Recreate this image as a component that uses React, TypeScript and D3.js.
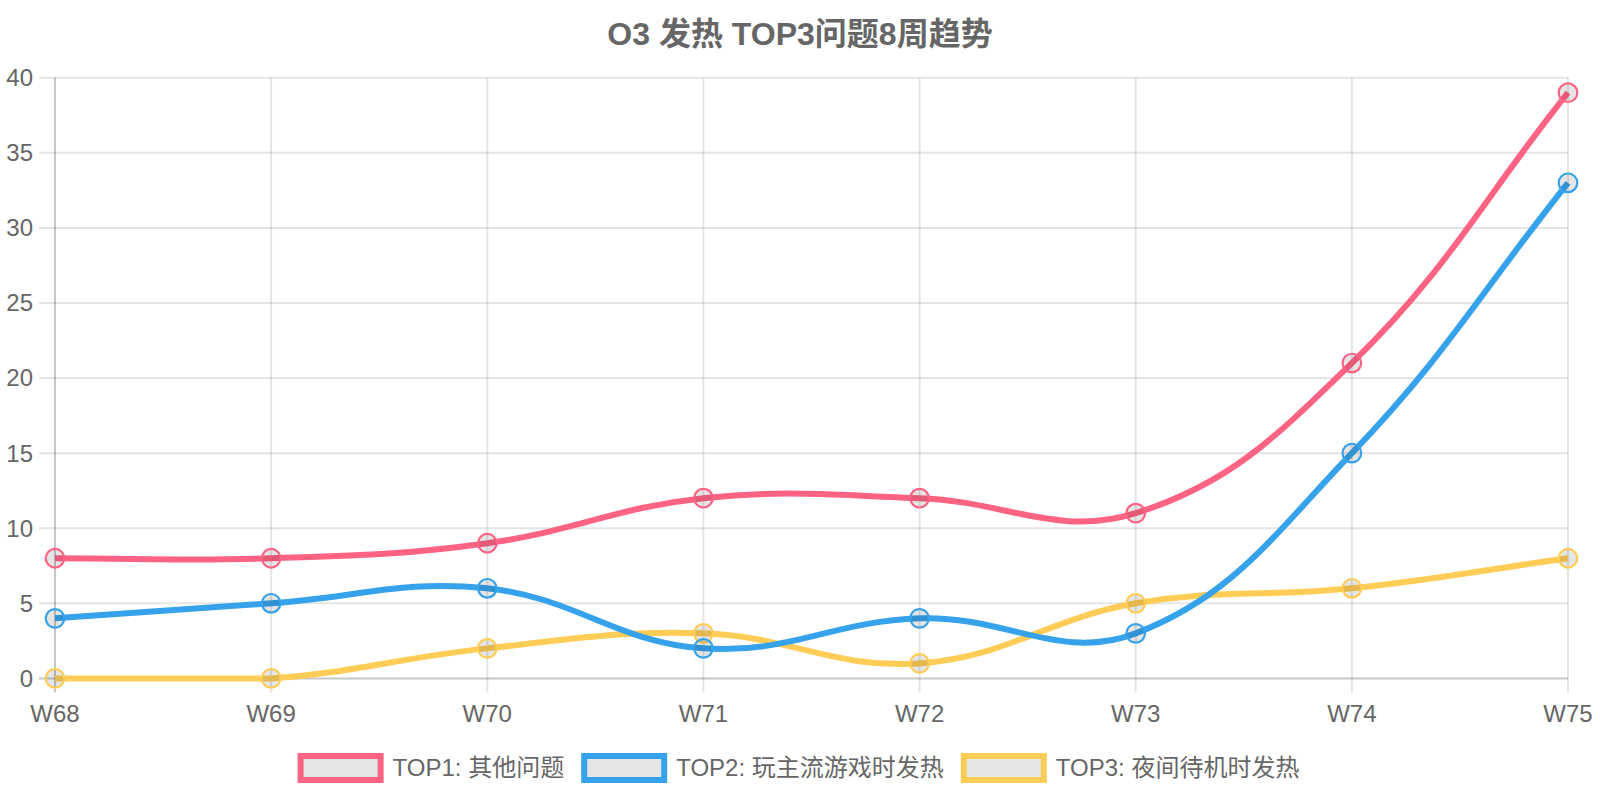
import React, { useRef, useEffect } from 'react';
import * as d3 from 'd3';

const weeks = ['W68', 'W69', 'W70', 'W71', 'W72', 'W73', 'W74', 'W75'];
const top1 = [8, 8, 9, 12, 12, 11, 21, 39];
const top2 = [4, 5, 6, 2, 4, 3, 15, 33];
const top3 = [0, 0, 2, 3, 1, 5, 6, 8];
const seriesNames = ['TOP1: 其他问题', 'TOP2: 玩主流游戏时发热', 'TOP3: 夜间待机时发热'];
const seriesColors = ['rgb(255, 99, 132)', 'rgb(54, 162, 235)', 'rgb(255, 205, 86)'];
const yTicks = [0, 5, 10, 15, 20, 25, 30, 35, 40];

const FONT = "'Liberation Sans', Arial, 'Noto Sans CJK SC', sans-serif";

type Pt = { x: number; y: number };

// chart.js style spline (tension 0.4), control points kept inside the plot area
function splinePath(pts: Pt[], top: number, bottom: number, t = 0.4) {
    const cps = pts.map((cur, i) => {
        const prev = pts[i - 1] || cur;
        const next = pts[i + 1] || cur;
        const d01 = Math.hypot(cur.x - prev.x, cur.y - prev.y);
        const d12 = Math.hypot(next.x - cur.x, next.y - cur.y);
        let s01 = d01 / (d01 + d12);
        let s12 = d12 / (d01 + d12);
        if (isNaN(s01)) s01 = 0;
        if (isNaN(s12)) s12 = 0;
        const fa = t * s01, fb = t * s12;
        const clamp = (v: number) => Math.max(top, Math.min(bottom, v));
        return {
            p: { x: cur.x - fa * (next.x - prev.x), y: clamp(cur.y - fa * (next.y - prev.y)) },
            n: { x: cur.x + fb * (next.x - prev.x), y: clamp(cur.y + fb * (next.y - prev.y)) },
        };
    });
    const path = d3.path();
    path.moveTo(pts[0].x, pts[0].y);
    for (let i = 1; i < pts.length; i++) {
        const a = cps[i - 1].n, b = cps[i].p;
        path.bezierCurveTo(a.x, a.y, b.x, b.y, pts[i].x, pts[i].y);
    }
    return path.toString();
}

const App: React.FC = () => {
    const svgRef = useRef<SVGSVGElement | null>(null);

    useEffect(() => {
        if (!svgRef.current) return;
        const width = 1600;
        const height = 800;
        const left = 55, right = 1568, top = 77.7, bottom = 678.4;

        const svg = d3.select(svgRef.current);
        svg.selectAll('*').remove();
        svg.attr('width', width).attr('height', height).style('font-family', FONT);

        const x = d3.scalePoint<string>().domain(weeks).range([left, right]);
        const y = d3.scaleLinear().domain([0, 40]).range([bottom, top]);

        const grid = svg.append('g');
        // horizontal grid
        grid.selectAll('line.h')
            .data(yTicks)
            .join('line')
            .attr('x1', left - 16)
            .attr('x2', right)
            .attr('y1', d => y(d))
            .attr('y2', d => y(d))
            .attr('stroke', d => (d === 0 ? 'rgba(0,0,0,0.22)' : 'rgba(0,0,0,0.1)'))
            .attr('stroke-width', 2);
        // vertical grid
        grid.selectAll('line.v')
            .data(weeks)
            .join('line')
            .attr('x1', d => x(d)!)
            .attr('x2', d => x(d)!)
            .attr('y1', top)
            .attr('y2', bottom + 14)
            .attr('stroke', (d, i) => (i === 0 ? 'rgba(0,0,0,0.22)' : 'rgba(0,0,0,0.1)'))
            .attr('stroke-width', 2);

        // y tick labels
        svg.append('g')
            .selectAll('text')
            .data(yTicks)
            .join('text')
            .attr('x', 33)
            .attr('y', d => y(d))
            .attr('dy', '0.35em')
            .attr('text-anchor', 'end')
            .attr('fill', '#666')
            .attr('font-size', 24)
            .text(d => d);

        // x tick labels
        svg.append('g')
            .selectAll('text')
            .data(weeks)
            .join('text')
            .attr('x', d => x(d)!)
            .attr('y', 722)
            .attr('text-anchor', 'middle')
            .attr('fill', '#666')
            .attr('font-size', 24)
            .text(d => d);

        // title
        svg.append('text')
            .attr('x', width / 2)
            .attr('y', 45)
            .attr('text-anchor', 'middle')
            .attr('fill', '#666')
            .attr('font-size', 32)
            .attr('font-weight', 'bold')
            .text('O3 发热 TOP3问题8周趋势');

        const series = [top1, top2, top3];
        // chart.js draws the first dataset on top
        for (let s = series.length - 1; s >= 0; s--) {
            const pts = series[s].map((v, i) => ({ x: x(weeks[i])!, y: y(v) }));
            const g = svg.append('g');
            g.append('path')
                .attr('d', splinePath(pts, top, bottom))
                .attr('fill', 'none')
                .attr('stroke', seriesColors[s])
                .attr('stroke-width', 6);
            g.selectAll('circle')
                .data(pts)
                .join('circle')
                .attr('cx', d => d.x)
                .attr('cy', d => d.y)
                .attr('r', 9.3)
                .attr('fill', 'rgba(0,0,0,0.1)')
                .attr('stroke', seriesColors[s])
                .attr('stroke-width', 2.2);
        }

        // legend
        const legend = svg.append('g');
        const items = seriesNames.map((name, i) => {
            const item = legend.append('g');
            item.append('rect')
                .attr('x', 0)
                .attr('y', -12)
                .attr('width', 80)
                .attr('height', 24)
                .attr('fill', 'rgba(0,0,0,0.1)')
                .attr('stroke', seriesColors[i])
                .attr('stroke-width', 6);
            const label = item.append('text')
                .attr('x', 92)
                .attr('y', 0)
                .attr('dy', '0.35em')
                .attr('fill', '#666')
                .attr('font-size', 24)
                .text(name);
            const w = 92 + (label.node() as SVGTextElement).getComputedTextLength();
            return { item, w };
        });
        const gap = 20;
        const total = d3.sum(items, d => d.w) + gap * (items.length - 1);
        let cx = width / 2 - total / 2;
        items.forEach(({ item, w }) => {
            item.attr('transform', `translate(${cx},768)`);
            cx += w + gap;
        });
    }, []);

    return (
        <svg
            ref={svgRef}
            width={1600}
            height={800}
            style={{ position: 'absolute', left: 0, top: 0, background: '#fff' }}
        />
    );
};

export default App;
